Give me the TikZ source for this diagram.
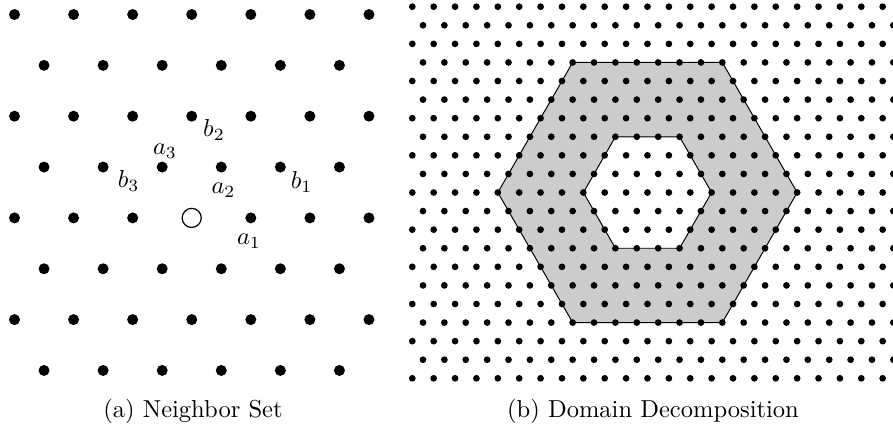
\documentclass[tikz,border=0pt]{standalone}
\usepackage{tikz}
\tikzset{
  bigdot/.style={fill=black},
  smalldot/.style={fill=black},
  origin/.style={draw=black, line width=0.5pt, fill=white},
  ring/.style={draw=black, thin, fill=black!20, even odd rule},
  lbl/.style={inner sep=0pt},
  capt/.style={anchor=base, inner sep=0pt}
}

\begin{document}
\begin{tikzpicture}[x=0.4078pt,y=-0.4078pt]
			\useasboundingbox (0,0) rectangle (893,428);
			%%%%% NEIGHBOR SET %%%%%
			\foreach \j in {0,2,4,6}{
				\foreach \k in {0,...,6}{
					\fill[bigdot] (14.5+59.08*\k, 14.5+50.85*\j) circle (2.24pt);
				}
			}
			\foreach \j in {1,3,5,7}{
				\foreach \k in {0,...,5}{
					\fill[bigdot] (44.04+59.08*\k, 14.5+50.85*\j) circle (2.24pt);
				}
			}
			\draw[origin] (191.7, 217.9) circle (3.9pt);
			
			\node[lbl] (a1) at (249, 241) {$a_1$};
			\node[lbl] (a2) at (223.5, 190.5) {$a_2$};
			\node[lbl] (a3) at (165, 151) {$a_3$};
			\node[lbl] (b1) at (301.7, 182) {$b_1$};
			\node[lbl] (b2) at (214, 130) {$b_2$};
			\node[lbl] (b3) at (128.7, 181) {$b_3$};
			
			\node[capt] (capa) at (193, 417) {(a) Neighbor Set};
			
			%%%%% DOMAIN DECOMPOSITION %%%%%
			\draw[ring] (497.84, 192.5) -- (572.67, 62.44) -- (722.33, 62.44) -- (797.16, 192.5)
				-- (722.33, 322.56) -- (572.67, 322.56) -- cycle
				(583.36, 192.5) -- (615.43, 136.76) -- (679.57, 136.76) -- (711.64, 192.5)
				-- (679.57, 248.24) -- (615.43, 248.24) -- cycle;
			
			\foreach \j in {0,...,20}{
				\pgfmathsetmacro\off{mod(\j,2)*10.69}
				\foreach \k in {0,...,22}{
					\fill[smalldot] (412.3+\off+21.38*\k, 6.7+18.58*\j) circle (1.37pt);
				}
			}
			
			\node[capt] (capb) at (653, 417) {(b) Domain Decomposition};
			%%%%% END %%%%%
\end{tikzpicture}
\end{document}
